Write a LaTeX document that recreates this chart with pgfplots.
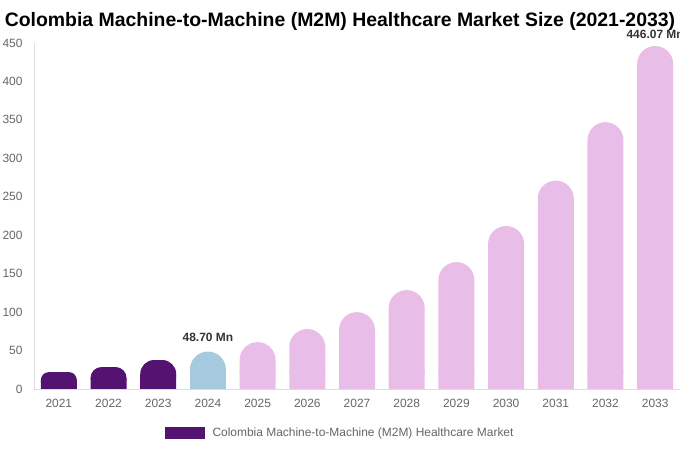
\documentclass[border=0pt]{standalone}
\usepackage{fontspec}
\setmainfont{Liberation Sans}
\usepackage{pgfplots}
\pgfplotsset{compat=1.18}

\definecolor{darkviolet}{HTML}{551371}
\definecolor{lightblue}{HTML}{A6CBDF}
\definecolor{lightpink}{HTML}{E8BDE8}
\definecolor{ticktext}{HTML}{666666}
\definecolor{axisgray}{HTML}{DDDDDD}

\begin{document}
\begin{tikzpicture}[x=1bp,y=1bp]
\useasboundingbox (0,0) rectangle (680,450);
\clip (0,0) rectangle (680,450);
\begin{axis}[
    at={(34bp,61bp)}, anchor=south west,
    scale only axis,
    width=646bp, height=346bp,
    xmin=-0.5, xmax=12.5,
    ymin=0, ymax=450,
    clip=false,
    ybar, bar width=36bp, bar shift=0pt,
    axis x line=bottom, axis y line=left,
    axis line style={draw=axisgray, -},
    major tick length=0pt,
    xtick={0,...,12},
    xticklabels={2021,2022,2023,2024,2025,2026,2027,2028,2029,2030,2031,2032,2033},
    ytick={0,50,...,450},
    tick label style={font=\fontsize{12}{14}\selectfont, text=ticktext},
    /pgf/number format/assume math mode=true,
    yticklabel style={xshift=-8bp},
    xticklabel style={yshift=-7bp},
    legend style={at={(rel axis cs:0.4737,-0.127)}, anchor=center, draw=none,
        font=\fontsize{12}{14}\selectfont, text=ticktext, inner sep=0pt},
    legend image code/.code={\fill[#1, sharp corners] (0bp,-6bp) rectangle (40bp,6bp);
        \path (46bp,0bp);},
    every axis plot/.append style={draw=none},
]
% historical years
\addplot[fill=darkviolet, rounded corners=8bp] coordinates {(0,22.0)};
\addlegendentry{Colombia Machine-to-Machine (M2M) Healthcare Market}
\addplot[fill=darkviolet, rounded corners=11bp, forget plot] coordinates {(1,28.6)};
\addplot[fill=darkviolet, rounded corners=14bp, forget plot] coordinates {(2,37.7)};
\addplot[fill=darkviolet, forget plot] coordinates {(0,11) (1,14) (2,19)};
% base year
\addplot[fill=lightblue, rounded corners=18bp, forget plot] coordinates {(3,48.70)};
\addplot[fill=lightblue, forget plot] coordinates {(3,24)};
% forecast
\addplot[fill=lightpink, rounded corners=18bp, forget plot] coordinates {
(4,61.0) (5,78.0) (6,100.0) (7,128.6) (8,165.0) (9,212.0)
(10,271.0) (11,347.0) (12,446.07)};
\addplot[fill=lightpink, forget plot] coordinates {
(4,25) (5,25) (6,25) (7,25) (8,25) (9,25) (10,25) (11,25) (12,25)};
\node[anchor=south, yshift=6bp, font=\bfseries\fontsize{12}{14}\selectfont, text=black!80]
    at (axis cs:3,48.70) {48.70 Mn};
\node[anchor=south, yshift=4bp, font=\bfseries\fontsize{12}{14}\selectfont, text=black!80]
    at (axis cs:12,446.07) {446.07 Mn};
\end{axis}
\node[font=\bfseries\fontsize{19.5}{23}\selectfont] at (340,429) {Colombia Machine-to-Machine (M2M) Healthcare Market Size (2021-2033)};
\end{tikzpicture}
\end{document}
